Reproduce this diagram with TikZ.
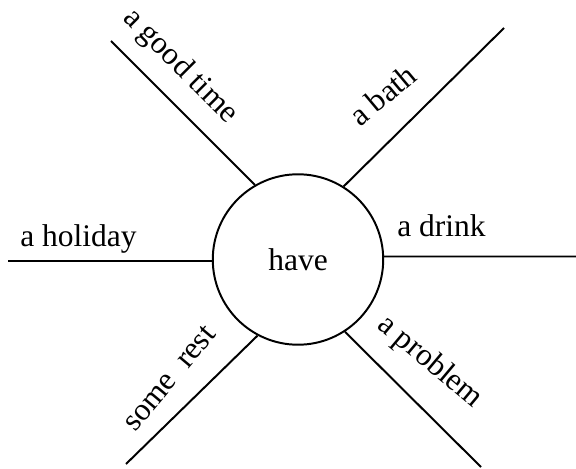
\documentclass[tikz,border=0pt]{standalone}
\usepackage{fontspec}
\setmainfont{Liberation Serif}
\usetikzlibrary{calc}
\tikzset{
    hub/.style={circle, draw, line width=1.4pt, minimum size=121.2pt,
                inner sep=0pt, font=\fontsize{22.4}{27}\selectfont},
    spoke/.style={line width=1.4pt},
    lbl/.style={font=\fontsize{22.4}{27}\selectfont, inner sep=0pt,
                anchor=base west},
}
\begin{document}
\begin{tikzpicture}[x=0.025cm, y=0.025cm]
\useasboundingbox (0,0) rectangle (576,468);

\node[hub] (have) at (298,208.5) {have};

% free ends of the spokes
\coordinate (goodtime) at (111,427);
\coordinate (bath)     at (504,440);
\coordinate (holiday)  at (8,207);
\coordinate (drink)    at (576,211.5);
\coordinate (rest)     at (126,4);
\coordinate (problem)  at (481,1);

\draw[spoke] (goodtime) -- (have.120);
\draw[spoke] (have.58) -- (bath);
\draw[spoke] (holiday) -- (have.181);
\draw[spoke] (have.2) -- (drink);
\draw[spoke] (rest) -- (have.242);
\draw[spoke] (have.303) -- (problem);

% collocations
\node[lbl, rotate=-45] (lGood)    at (122,449) {a good time};
\node[lbl, rotate=40]  (lBath)    at (360,340) {a bath};
\node[lbl]             (lHoliday) at (20,221.3) {a holiday};
\node[lbl]             (lDrink)   at (397,231.3) {a drink};
\node[lbl, rotate=50]  (lRest)    at (135,35) {some\ \ rest};
\node[lbl, rotate=-40] (lProblem) at (376,141) {a problem};

\end{tikzpicture}
\end{document}
